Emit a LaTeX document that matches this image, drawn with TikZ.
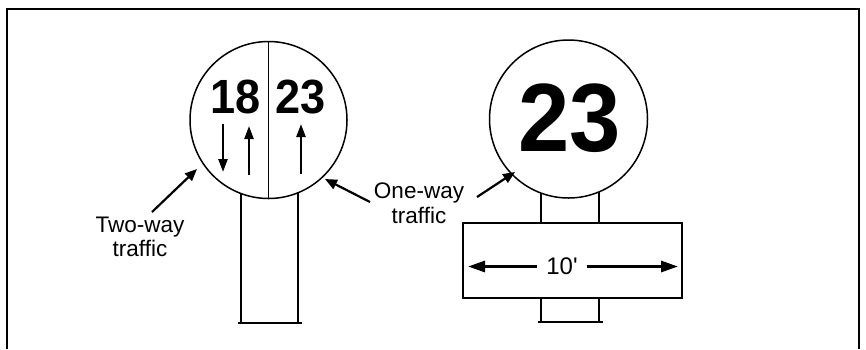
\documentclass[tikz,border=0pt]{standalone}
\usepackage{fontspec}
\setmainfont{Liberation Sans}
\newfontfamily\plainsans{Liberation Sans}[Ligatures=TeXOff]
\usetikzlibrary{arrows.meta}
\begin{document}
\begin{tikzpicture}[x=1pt,y=-1pt,
  outline/.style={line width=1.5pt,line join=miter},
  frame/.style={line width=2.2pt},
  pointer/.style={line width=2.2pt,-{Triangle[length=12pt,width=10pt]}},
  signarrow/.style={line width=2.4pt,-{Triangle[length=13pt,width=9pt]}},
  dimarrow/.style={line width=3pt,-{Triangle[length=17pt,width=11pt]}},
  label/.style={inner sep=0pt,anchor=base,font=\fontsize{22.5}{24}\selectfont},
  signnum/.style={inner sep=0pt,anchor=base,xscale=0.94,font=\bfseries\fontsize{48}{50}\selectfont}]
\useasboundingbox (0,0) rectangle (866,349);
% frame
\draw[frame] (7,349) -- (7,9) -- (859,9) -- (859,349);

% left sign post
\draw[outline] (241,170) -- (241,323);
\draw[outline] (298,170) -- (298,323);
\draw[outline] (238,323) -- (302,323);
% left sign
\node[outline,draw,circle,fill=white,minimum size=157pt,inner sep=0pt] (lsign) at (268.5,120) {};
\draw[outline] (lsign.north) -- (lsign.south);
\node[signnum] (n18) at (236,113) {18};
\node[signnum] (n23a) at (300.5,113) {23};
\coordinate (d1s) at (223,124); \coordinate (d1e) at (223,172);
\coordinate (u1s) at (249,175); \coordinate (u1e) at (249,126);
\coordinate (u2s) at (301,174); \coordinate (u2e) at (301,124);
\draw[signarrow] (d1s) -- (d1e);
\draw[signarrow] (u1s) -- (u1e);
\draw[signarrow] (u2s) -- (u2e);

% right sign post and board
\draw[outline] (541,170) -- (541,322);
\draw[outline] (599,170) -- (599,322);
\draw[outline] (538,322) -- (603,322);
\node[outline,draw,fill=white,minimum width=219pt,minimum height=75pt,inner sep=0pt,anchor=north west] (board) at (462,222) {};
\node[inner sep=0pt,anchor=center,font=\plainsans\fontsize{24}{26}\selectfont] (ten) at (562,266) {10'};
\coordinate (bl) at (468,266.5); \coordinate (br) at (678,266.5);
\draw[dimarrow] (ten.west) ++(-9,0.5) -- (bl);
\draw[dimarrow] (ten.east) ++(9,0.5) -- (br);
\node[outline,draw,circle,fill=white,minimum size=158pt,inner sep=0pt] (rsign) at (568.5,119) {};
\node[inner sep=0pt,anchor=base,xscale=0.95,font=\bfseries\fontsize{97}{100}\selectfont] (n23b) at (570,151.5) {23};

% labels
\node[label] (tw1) at (140,232.5) {Two-way};
\node[label] (tw2) at (140,256.5) {traffic};
\node[label] (ow1) at (419,198.5) {One-way};
\node[label] (ow2) at (419,223) {traffic};
\coordinate (twA) at (152,212); \coordinate (twB) at (197,169);
\coordinate (owLA) at (370,202); \coordinate (owLB) at (325,179);
\coordinate (owRA) at (477,197); \coordinate (owRB) at (515,172);
\draw[pointer] (twA) -- (twB);
\draw[pointer] (owLA) -- (owLB);
\draw[pointer] (owRA) -- (owRB);
\end{tikzpicture}
\end{document}
